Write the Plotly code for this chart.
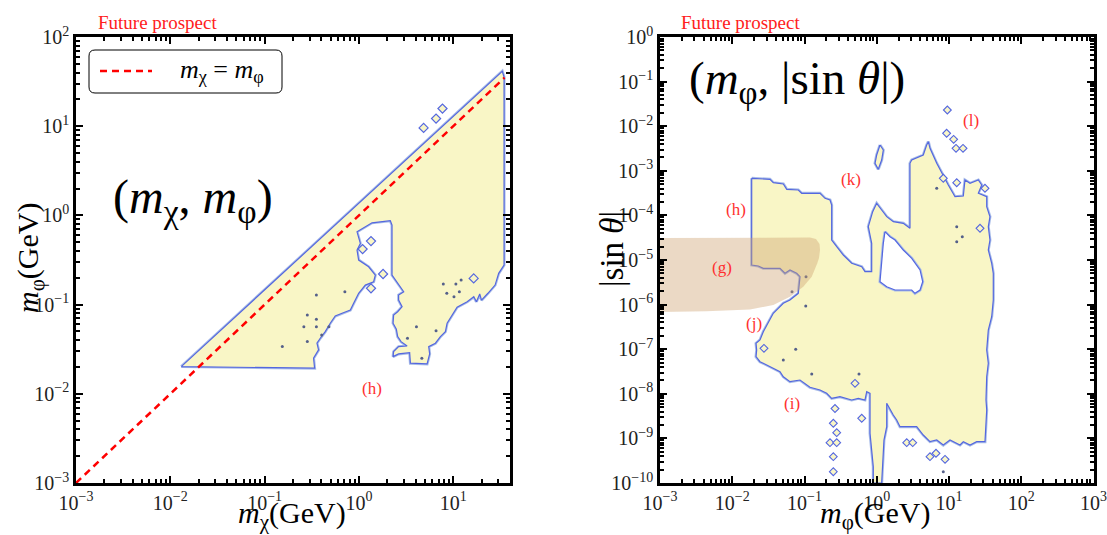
import plotly.graph_objects as go

# ---------------- data (log10 units) ----------------
# left panel: allowed region in (m_chi, m_phi)
left_region_lx = [-1.884, 1.520, 1.539, 1.539, 1.482, 1.444, 1.368, 1.300, 1.281, 1.246, 1.218, 1.148,
                  1.041, 0.988, 0.935, 0.917, 0.864, 0.811, 0.740, 0.750, 0.723, 0.546, 0.538, 0.421,
                  0.362, 0.368, 0.421, 0.511, 0.447, 0.411, 0.397, 0.362, 0.368, 0.411, 0.458, 0.421,
                  0.421, 0.475, 0.411, 0.351, 0.351, 0.333, 0.139, -0.020, 0.015, -0.020, -0.003,
                  0.103, 0.174, 0.156, 0.068, -0.003, -0.056, -0.091, -0.179, -0.251, -0.304, -0.357,
                  -0.410, -0.445, -0.428, -0.481, -0.470, -1.884]
left_region_ly = [-1.695, 1.616, 1.550, -0.557, -0.650, -0.781, -0.873, -0.950, -0.881, -0.968, -0.912, -0.968,
                  -1.030, -1.117, -1.209, -1.303, -1.359, -1.433, -1.471, -1.553, -1.665, -1.657, -1.539, -1.553,
                  -1.583, -1.527, -1.471, -1.464, -1.415, -1.359, -1.277, -1.209, -1.117, -1.080, -1.024, -0.949,
                  -0.893, -0.856, -0.761, -0.669, -0.109, -0.060, -0.083, -0.184, -0.314, -0.389, -0.501,
                  -0.576, -0.669, -0.744, -0.781, -0.873, -0.985, -1.061, -1.097, -1.128, -1.209, -1.303,
                  -1.377, -1.433, -1.508, -1.601, -1.713, -1.695]
left_islands_lx = [0.686, 0.818, 0.886, 0.128, 0.039, 0.256, 0.128, 1.217]
left_islands_ly = [0.981, 1.086, 1.198, -0.288, -0.377, -0.657, -0.817, -0.706]
left_dots_lx = [-0.547, -0.451, -0.584, -0.451, -0.395, -0.318, -0.547, -0.812, -0.149, -0.451,
                0.895, 1.028, 1.084, 0.932, 1.065, 1.008, 0.610, 0.818, 0.515, 0.667]
left_dots_ly = [-1.117, -1.165, -1.247, -1.247, -1.340, -1.247, -1.415, -1.471, -0.856, -0.893,
                -0.769, -0.769, -0.725, -0.873, -0.856, -0.912, -1.247, -1.292, -1.377, -1.601]
diag_x = [1e-3, 35.0]
diag_y = [1e-3, 35.0]

# right panel: allowed region in (m_phi, |sin theta|)
right_region_lx = [-1.731, -1.478, -1.432, -1.293, -1.246, -1.086, -1.039, -0.785, -0.716, -0.647, -0.624,
                   -0.624, -0.554, -0.463, -0.347, -0.208, -0.163, -0.070, -0.070, -0.117, -0.056, -0.001,
                   0.068, 0.138, 0.229, 0.367, 0.460, 0.460, 0.484, 0.644, 0.691, 0.714, 0.737, 0.783,
                   0.830, 0.990, 1.083, 1.198, 1.221, 1.291, 1.406, 1.453, 1.406, 1.522, 1.522, 1.567,
                   1.544, 1.567, 1.544, 1.591, 1.613, 1.613, 1.591, 1.544, 1.522, 1.544, 1.522, 1.512,
                   1.522, 1.498, 1.383, 1.291, 1.198, 1.152, 1.014, 0.921, 0.830, 0.737, 0.644, 0.553,
                   0.322, 0.276, 0.229, 0.138, 0.138, 0.100, 0.068, -0.048, -0.048, -0.093, -0.093,
                   -0.139, -0.163, -0.255, -0.347, -0.509, -0.624, -0.693, -0.785, -0.924, -1.062, -1.201,
                   -1.293, -1.339, -1.570, -1.616, -1.671, -1.662, -1.671, -1.616, -1.570, -1.478, -1.432,
                   -1.363, -1.293, -1.201, -1.086, -1.062, -1.108, -1.201, -1.270, -1.339, -1.570, -1.639,
                   -1.731, -1.731]
right_region_ly = [-3.168, -3.191, -3.267, -3.296, -3.415, -3.430, -3.504, -3.504, -3.617, -3.655, -3.767,
                   -4.552, -4.702, -4.888, -5.074, -5.150, -5.262, -5.262, -4.626, -4.253, -3.917, -3.729,
                   -3.879, -4.029, -4.141, -4.177, -4.289, -2.832, -2.758, -2.646, -2.422, -2.348, -2.496,
                   -2.684, -2.832, -3.318, -3.581, -3.565, -3.206, -3.280, -3.206, -3.318, -3.504, -3.581,
                   -3.805, -4.029, -4.253, -4.552, -4.776, -5.074, -5.298, -5.897, -6.271, -6.570, -7.018,
                   -7.316, -7.617, -8.139, -8.363, -9.074, -9.074, -9.148, -9.074, -9.148, -9.036, -9.148,
                   -9.036, -9.074, -8.924, -8.738, -8.738, -8.587, -8.475, -8.213, -8.738, -9.036, -10.0,
                   -10.0, -9.634, -8.886, -7.989, -7.953, -8.139, -8.101, -8.139, -8.065, -8.101, -7.989,
                   -7.915, -7.854, -7.691, -7.729, -7.617, -7.504, -7.316, -7.280, -7.168, -7.018, -6.868,
                   -6.794, -6.608, -6.345, -6.195, -6.083, -5.971, -5.897, -5.747, -5.374, -5.298, -5.224,
                   -5.298, -5.186, -5.186, -5.135, -5.112, -3.168]
right_hole_lx = [0.114, 0.183, 0.253, 0.367, 0.484, 0.599, 0.636, 0.599, 0.529, 0.484, 0.253, 0.138,
                 0.045, 0.068, 0.091, 0.114]
right_hole_ly = [-4.365, -4.478, -4.552, -4.776, -4.962, -5.224, -5.487, -5.673, -5.747, -5.673, -5.673,
                 -5.599, -5.487, -5.000, -4.626, -4.365]
right_blob_lx = [0.045, 0.091, 0.068, 0.021, -0.024, -0.001, 0.045]
right_blob_ly = [-2.422, -2.534, -2.758, -2.966, -2.832, -2.646, -2.422]
right_islands_lx = [0.977, 0.967, 1.064, 1.097, 1.194, 0.921, 1.107, 1.498, 1.429, -0.301,
                    -0.578, -0.208, -0.601, -0.554, -0.647, -0.554, -0.601, -0.601, 0.415, 0.498,
                    0.737, 0.820, 0.945, -1.561]
right_islands_ly = [-1.637, -2.159, -2.294, -2.496, -2.496, -3.168, -3.267, -3.392, -4.289, -7.765,
                    -8.330, -8.549, -8.661, -8.872, -9.096, -9.096, -9.410, -9.747, -9.096, -9.096,
                    -9.410, -9.334, -9.469, -6.980]
right_dots_lx = [0.830, 1.107, 1.184, 1.107, -1.293, -1.122, -0.983, -0.900, -0.246, -1.173, -0.979, 0.921]
right_dots_ly = [-3.392, -4.253, -4.478, -4.590, -7.242, -7.002, -6.031, -7.556, -7.556, -5.711, -5.374, -9.747]
band_lx = [-3.05, -0.924, -0.841, -0.792, -0.785, -0.799, -0.823, -0.900, -1.017, -1.201, -1.432, -1.754,
           -2.356, -3.05]
band_ly = [-4.507, -4.496, -4.529, -4.641, -4.776, -4.955, -5.074, -5.374, -5.599, -5.823, -6.009, -6.110,
           -6.150, -6.166]

left_x_exps = [-3, -2, -1, 0, 1]
left_y_exps = [-3, -2, -1, 0, 1, 2]
right_x_exps = [-3, -2, -1, 0, 1, 2, 3]
right_y_exps = [-10, -9, -8, -7, -6, -5, -4, -3, -2, -1, 0]

legend_label = "<i>m</i><sub>χ</sub> = <i>m</i><sub>φ</sub>"
left_tags = ["(h)"]
left_tags_lx = [0.136]
left_tags_ly = [-1.937]
right_tags = ["(l)", "(k)", "(h)", "(g)", "(j)", "(i)"]
right_tags_lx = [1.304, -0.361, -1.948, -2.142, -1.699, -1.169]
right_tags_ly = [-1.877, -3.191, -3.863, -5.157, -6.419, -8.213]


def p10(v):
    return [10 ** a for a in v]


def pow_labels(exps):
    return ["10<sup>" + str(e).replace("-", "\u2212") + "</sup>" for e in exps]


YELLOW = "#f9f6c6"
BLUE = "#5467df"
HALO = "#a9bde8"
SERIF = "Liberation Serif"

fig = go.Figure()


def region(lx, ly, xa, ya, fill):
    # light-blue halo under a thin blue contour line
    fig.add_trace(go.Scatter(x=p10(lx), y=p10(ly), mode="lines", line=dict(color=HALO, width=3),
                             xaxis=xa, yaxis=ya, showlegend=False, hoverinfo="skip"))
    fig.add_trace(go.Scatter(x=p10(lx), y=p10(ly), mode="lines", fill="toself", fillcolor=fill,
                             line=dict(color=BLUE, width=1.2), xaxis=xa, yaxis=ya,
                             showlegend=False, hoverinfo="skip"))


# ---- left panel ----
region(left_region_lx, left_region_ly, "x", "y", YELLOW)
fig.add_trace(go.Scatter(x=p10(left_islands_lx), y=p10(left_islands_ly), mode="markers",
                         marker=dict(symbol="diamond", size=7, color=YELLOW, line=dict(color=BLUE, width=1.2)),
                         xaxis="x", yaxis="y", showlegend=False, hoverinfo="skip"))
fig.add_trace(go.Scatter(x=p10(left_dots_lx), y=p10(left_dots_ly), mode="markers",
                         marker=dict(symbol="circle", size=3, color="#55608a"),
                         xaxis="x", yaxis="y", showlegend=False, hoverinfo="skip"))
fig.add_trace(go.Scatter(x=diag_x, y=diag_y, mode="lines",
                         line=dict(color="#ff0000", width=2.5, dash="7px,5px"),
                         name=legend_label, xaxis="x", yaxis="y", showlegend=False, hoverinfo="skip"))

# ---- right panel ----
region(right_region_lx, right_region_ly, "x2", "y2", YELLOW)
region(right_hole_lx, right_hole_ly, "x2", "y2", "white")
region(right_blob_lx, right_blob_ly, "x2", "y2", YELLOW)
fig.add_trace(go.Scatter(x=p10(right_islands_lx), y=p10(right_islands_ly), mode="markers",
                         marker=dict(symbol="diamond", size=6, color=YELLOW, line=dict(color=BLUE, width=1.1)),
                         xaxis="x2", yaxis="y2", showlegend=False, hoverinfo="skip"))
fig.add_trace(go.Scatter(x=p10(right_dots_lx), y=p10(right_dots_ly), mode="markers",
                         marker=dict(symbol="circle", size=3, color="#55608a"),
                         xaxis="x2", yaxis="y2", showlegend=False, hoverinfo="skip"))
fig.add_trace(go.Scatter(x=p10(band_lx), y=p10(band_ly), mode="lines", fill="toself",
                         fillcolor="rgba(205,160,110,0.40)", line=dict(width=0), xaxis="x2", yaxis="y2",
                         showlegend=False, hoverinfo="skip"))

W, H = 1107, 535
T, B = 37, 52
PH = H - T - B


def ax(domain, rng, anchor, exps):
    return dict(type="log", range=rng, domain=domain, anchor=anchor, automargin=False,
                tickmode="array", tickvals=p10(exps), ticktext=pow_labels(exps),
                showgrid=False, zeroline=False,
                showline=True, linewidth=2.6, linecolor="black", mirror="allticks",
                ticks="inside", ticklen=7, tickwidth=2, tickcolor="black",
                minor=dict(ticks="inside", ticklen=4, tickwidth=1.5, dtick="D1", showgrid=False,
                           tickcolor="black"),
                tickfont=dict(family=SERIF, size=20, color="#222"))


fig.update_layout(
    width=W, height=H,
    margin=dict(l=0, r=0, t=T, b=B, autoexpand=False),
    paper_bgcolor="white", plot_bgcolor="white",
    xaxis=ax([76 / W, 510 / W], [-3, 1.602], "y", left_x_exps),
    yaxis=ax([0, 1], [-3, 2], "x", left_y_exps),
    xaxis2=ax([660 / W, 1093.5 / W], [-3, 3], "y2", right_x_exps),
    yaxis2=ax([0, 1], [-10, 0], "x2", right_y_exps),
    showlegend=False,
    font=dict(family=SERIF),
)


def pap(px, py):
    return px / W, (H - B - py) / PH


ann = []


def text(px, py, s, size, color="black", angle=0):
    x, y = pap(px, py)
    ann.append(dict(x=x, y=y, xref="paper", yref="paper", text=s, showarrow=False,
                    font=dict(family=SERIF, size=size, color=color), textangle=angle,
                    xanchor="center", yanchor="middle"))


text(157, 22, "Future prospect", 19, "#ff2020")
text(740, 22, "Future prospect", 19, "#ff2020")
text(193, 200, "(<i>m</i><sub>χ</sub>, <i>m</i><sub>φ</sub>)", 48)
text(797, 82, "(<i>m</i><sub>φ</sub>, |sin <i>θ</i>|)", 47)
text(292, 515, "<i>m</i><sub>χ</sub>(GeV)", 30)
text(875, 515, "<i>m</i><sub>φ</sub>(GeV)", 30)
text(30, 258, "<i>m</i><sub>φ</sub>(GeV)", 30, angle=-90)
text(612, 249, "|sin <i>θ</i>|", 33, angle=-90)
text(222, 71, legend_label, 26)

for s, lx, ly in zip(left_tags, left_tags_lx, left_tags_ly):
    ann.append(dict(x=lx, y=ly, xref="x", yref="y", text=s, showarrow=False,
                    font=dict(family=SERIF, size=17, color="#ff3030")))
for s, lx, ly in zip(right_tags, right_tags_lx, right_tags_ly):
    ann.append(dict(x=lx, y=ly, xref="x2", yref="y2", text=s, showarrow=False,
                    font=dict(family=SERIF, size=17, color="#ff3030")))


# legend box (rounded) and its dashed sample line, drawn in paper space
def rounded_rect(x0, y0, x1, y1, r):
    ax0, ay0 = pap(x0, y1)
    ax1, ay1 = pap(x1, y0)
    rx, ry = r / W, r / PH
    return (f"M {ax0 + rx},{ay0} L {ax1 - rx},{ay0} Q {ax1},{ay0} {ax1},{ay0 + ry} "
            f"L {ax1},{ay1 - ry} Q {ax1},{ay1} {ax1 - rx},{ay1} L {ax0 + rx},{ay1} "
            f"Q {ax0},{ay1} {ax0},{ay1 - ry} L {ax0},{ay0 + ry} Q {ax0},{ay0} {ax0 + rx},{ay0} Z")


lx0, ly0 = pap(100, 71)
lx1, _ = pap(152, 71)
shapes = [
    dict(type="path", xref="paper", yref="paper", path=rounded_rect(89, 50, 282, 93, 6),
         line=dict(color="black", width=1), fillcolor="white", layer="above"),
    dict(type="line", xref="paper", yref="paper", x0=lx0, x1=lx1, y0=ly0, y1=ly0,
         line=dict(color="#ff0000", width=2.5, dash="7px,5px"), layer="above"),
]

fig.update_layout(annotations=ann, shapes=shapes)
fig.write_html("out.html", config={"displayModeBar": False},
               post_script="document.body.style.margin='0';document.body.style.overflow='hidden';")
